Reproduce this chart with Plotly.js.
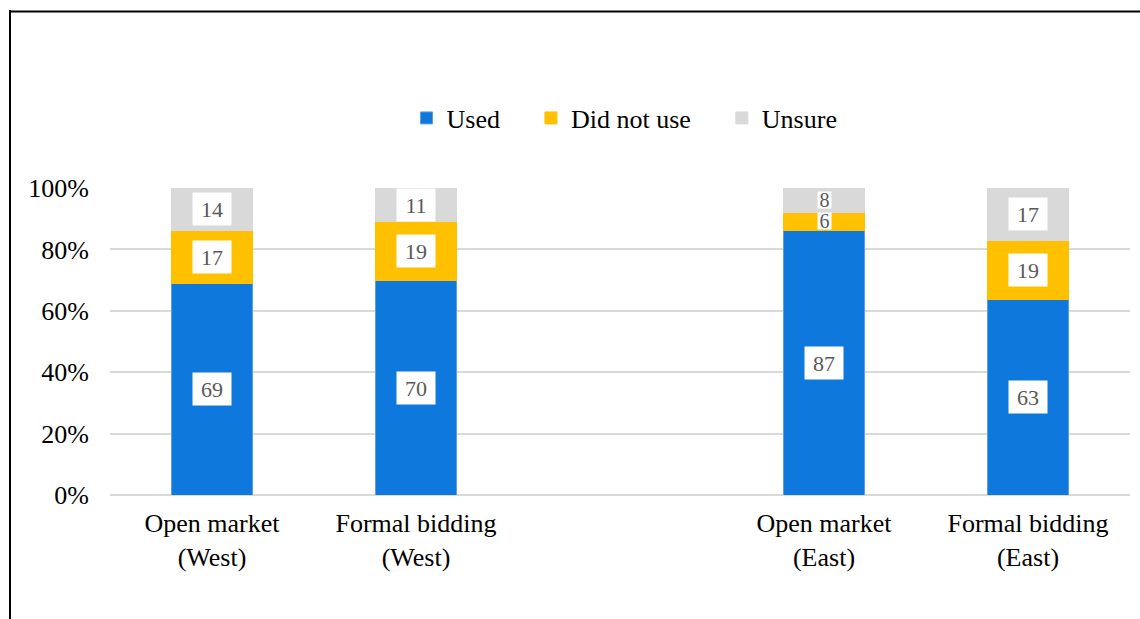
<!DOCTYPE html>
<html>
<head>
<meta charset="utf-8">
<script src="https://cdn.plot.ly/plotly-3.0.1.min.js"></script>
<style>
html,body{margin:0;padding:0;background:#fff;}
#chart{width:1140px;height:619px;}
</style>
</head>
<body>
<div id="chart"></div>
<script>
// ---- data ----
const categories = ['Open market<br>(West)', 'Formal bidding<br>(West)', ' ', 'Open market<br>(East)', 'Formal bidding<br>(East)'];
const used      = [69, 70, null, 87, 63];
const didNotUse = [17, 19, null, 6, 19];
const unsure    = [14, 11, null, 8, 17];
const seriesNames = ['Used', 'Did not use', 'Unsure'];
const yTickVals = [0, 20, 40, 60, 80, 100];
const yTickText = ['0%', '20%', '40%', '60%', '80%', '100%'];

// ---- styles ----
const colors = ['#0F78DC', '#FFC000', '#D9D9D9'];
const lineColors = ['#5C9FE0', '#FFC000', '#D9D9D9'];
const FONT = 'Liberation Serif';
const NB = '\u00a0';
const legendPad = [NB.repeat(4), NB.repeat(4), ''];

const series = [used, didNotUse, unsure];
const traces = series.map((vals, i) => ({
  type: 'bar',
  name: seriesNames[i] + legendPad[i],
  x: categories,
  y: vals,
  width: 0.4,
  marker: {color: colors[i], line: {color: lineColors[i], width: 1}},
  hoverinfo: 'skip'
}));

// annotation labels at normalized segment midpoints
const annotations = [];
categories.forEach((cat, ci) => {
  const vals = series.map(s => s[ci]);
  if (vals.some(v => v === null)) return;
  const total = vals.reduce((a, b) => a + b, 0);
  let cum = 0;
  vals.forEach((v, si) => {
    const pct = v / total * 100;
    const small = v < 10;
    annotations.push({
      x: cat, y: cum + pct / 2, xref: 'x', yref: 'y',
      text: String(v), showarrow: false,
      font: {family: FONT, size: small ? 20 : 22, color: '#595959'},
      bgcolor: '#FFFFFF',
      width: small ? 13 : 38,
      height: small ? 16 : 32,
      borderpad: 0,
      valign: 'middle', align: 'center'
    });
    cum += pct;
  });
});

// frame lines (left and top)
const L = 110, R = 10, T = 188, B = 124, W = 1140, H = 619;
const pw = W - L - R, ph = H - T - B;
const px = x => (x - L) / pw;
const py = y => (H - B - y) / ph;
const shapes = [
  {type: 'line', xref: 'paper', yref: 'paper', x0: px(10), x1: px(10), y0: py(10), y1: py(640), line: {color: '#000', width: 2}},
  {type: 'line', xref: 'paper', yref: 'paper', x0: px(9), x1: px(1160), y0: py(11.5), y1: py(11.5), line: {color: '#000', width: 2}}
];

const layout = {
  width: W, height: H,
  margin: {l: L, r: R, t: T, b: B, pad: 0},
  paper_bgcolor: '#fff', plot_bgcolor: '#fff',
  barmode: 'stack',
  barnorm: 'percent',
  font: {family: FONT, size: 26, color: '#000'},
  showlegend: true,
  legend: {
    orientation: 'h', x: px(624.5), xanchor: 'center', y: py(118), yanchor: 'middle',
    font: {family: FONT, size: 26, color: '#000'},
    traceorder: 'normal', itemclick: false, itemdoubleclick: false,
    itemwidth: 30
  },
  xaxis: {
    type: 'category', categoryorder: 'array', categoryarray: categories,
    range: [-0.5, 4.5], showgrid: false, zeroline: false, showline: false,
    ticks: '', ticklabelstandoff: 10,
    tickfont: {family: FONT, size: 26, color: '#000'},
    fixedrange: true
  },
  yaxis: {
    range: [0, 100], tickmode: 'array', tickvals: yTickVals, ticktext: yTickText,
    showgrid: true, gridcolor: '#D9D9D9', gridwidth: 2,
    zeroline: true, zerolinecolor: '#D9D9D9', zerolinewidth: 2,
    showline: false, ticks: '', ticklabelstandoff: 20,
    tickfont: {family: FONT, size: 26, color: '#000'},
    fixedrange: true
  },
  annotations: annotations,
  shapes: shapes
};

Plotly.newPlot('chart', traces, layout, {displayModeBar: false, staticPlot: true});
</script>
</body>
</html>
